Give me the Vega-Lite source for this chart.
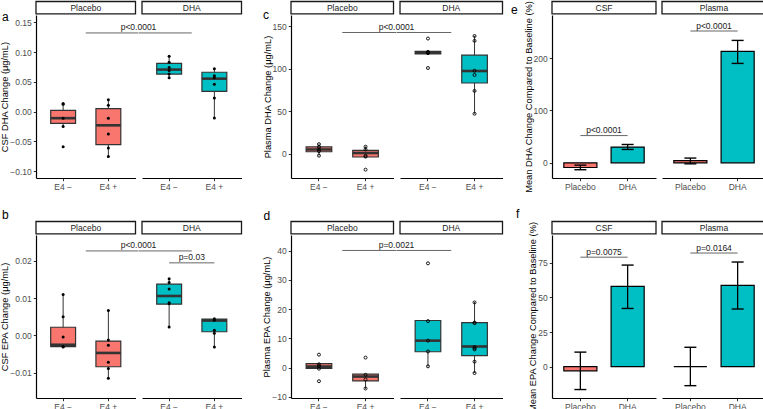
{
"$schema":"https://vega.github.io/schema/vega-lite/v6.json",
"padding":0,
"background":"white",
"columns":8,
"bounds":"flush",
"align":"each",
"spacing":{"row":57,"column":6},
"config":{
 "font":"Liberation Sans",
 "view":{"stroke":null},
 "axisY":{"labelFont":"Liberation Sans","labelFontSize":8.5,"labelColor":"#4d4d4d","tickColor":"#333333","tickSize":2.75,"tickWidth":1,"labelPadding":2,"domainColor":"black","domainWidth":1.2,"grid":false,"titleFont":"Liberation Sans","titleFontSize":9.3,"titleFontWeight":"normal","titleColor":"black","titlePadding":0},
 "axisX":{"labelFont":"Liberation Sans","labelFontSize":8.5,"labelColor":"#4d4d4d","tickColor":"#333333","tickSize":2.75,"tickWidth":1,"labelPadding":2,"domainColor":"black","domainWidth":1.2,"grid":false}
},
"datasets":{
 "one":[{"g":"E4 −"}],
 "oneP":[{"g":"Placebo"}],
 "a_box":[
  {"f":"Placebo","g":"E4 −","lower":-0.025,"q1":-0.0196,"med":-0.011,"q3":0.002,"upper":0.0135},
  {"f":"Placebo","g":"E4 +","lower":-0.0767,"q1":-0.0554,"med":-0.023,"q3":0.005,"upper":0.021},
  {"f":"DHA","g":"E4 −","lower":0.0547,"q1":0.063,"med":0.0705,"q3":0.081,"upper":0.094},
  {"f":"DHA","g":"E4 +","lower":-0.0107,"q1":0.034,"med":0.0553,"q3":0.066,"upper":0.0727}],
 "a_pts":[
  {"f":"Placebo","g":"E4 −","v":0.0135},{"f":"Placebo","g":"E4 −","v":0.0125},{"f":"Placebo","g":"E4 −","v":-0.011},{"f":"Placebo","g":"E4 −","v":-0.025},{"f":"Placebo","g":"E4 −","v":-0.059},
  {"f":"Placebo","g":"E4 +","v":0.02},{"f":"Placebo","g":"E4 +","v":0.0106},{"f":"Placebo","g":"E4 +","v":-0.011},{"f":"Placebo","g":"E4 +","v":-0.0376},{"f":"Placebo","g":"E4 +","v":-0.061},{"f":"Placebo","g":"E4 +","v":-0.0755},
  {"f":"DHA","g":"E4 −","v":0.093},{"f":"DHA","g":"E4 −","v":0.083},{"f":"DHA","g":"E4 −","v":0.074},{"f":"DHA","g":"E4 −","v":0.069},{"f":"DHA","g":"E4 −","v":0.063},{"f":"DHA","g":"E4 −","v":0.057},
  {"f":"DHA","g":"E4 +","v":0.072},{"f":"DHA","g":"E4 +","v":0.06},{"f":"DHA","g":"E4 +","v":0.057},{"f":"DHA","g":"E4 +","v":0.0458},{"f":"DHA","g":"E4 +","v":0.0229},{"f":"DHA","g":"E4 +","v":-0.0107}],
 "a_br":[{"g":"E4 +","y":0.132,"label":"p<0.0001"}],
 "b_box":[
  {"f":"Placebo","g":"E4 −","lower":-0.0031,"q1":-0.003,"med":-0.0025,"q3":0.0022,"upper":0.011},
  {"f":"Placebo","g":"E4 +","lower":-0.0116,"q1":-0.0084,"med":-0.0047,"q3":-0.0015,"upper":0.0068},
  {"f":"DHA","g":"E4 −","lower":0.0025,"q1":0.0084,"med":0.0106,"q3":0.0138,"upper":0.0153},
  {"f":"DHA","g":"E4 +","lower":-0.0031,"q1":0.001,"med":0.004,"q3":0.0044,"upper":0.0046}],
 "b_pts":[
  {"f":"Placebo","g":"E4 −","v":0.011},{"f":"Placebo","g":"E4 −","v":0.005},{"f":"Placebo","g":"E4 −","v":-0.0004},{"f":"Placebo","g":"E4 −","v":-0.003},{"f":"Placebo","g":"E4 −","v":-0.0031},
  {"f":"Placebo","g":"E4 +","v":0.0067},{"f":"Placebo","g":"E4 +","v":-0.0012},{"f":"Placebo","g":"E4 +","v":-0.0026},{"f":"Placebo","g":"E4 +","v":-0.0072},{"f":"Placebo","g":"E4 +","v":-0.0089},{"f":"Placebo","g":"E4 +","v":-0.0115},
  {"f":"DHA","g":"E4 −","v":0.0152},{"f":"DHA","g":"E4 −","v":0.0142},{"f":"DHA","g":"E4 −","v":0.0125},{"f":"DHA","g":"E4 −","v":0.0088},{"f":"DHA","g":"E4 −","v":0.0085},{"f":"DHA","g":"E4 −","v":0.0023},
  {"f":"DHA","g":"E4 +","v":0.0045},{"f":"DHA","g":"E4 +","v":0.0041},{"f":"DHA","g":"E4 +","v":0.0014},{"f":"DHA","g":"E4 +","v":0.0006},{"f":"DHA","g":"E4 +","v":-0.0031}],
 "b_br":[{"g":"E4 +","y":0.0227,"label":"p<0.0001"}],
 "b_br2":[{"g":"E4 −","y":0.0195,"label":"p=0.03"},{"g":"E4 +","y":0.0195,"label":"p=0.03"}],
 "c_box":[
  {"f":"Placebo","g":"E4 −","lower":-2.3,"q1":2.3,"med":5,"q3":8,"upper":11.5},
  {"f":"Placebo","g":"E4 +","lower":-4,"q1":-3.9,"med":0.8,"q3":3.9,"upper":8.5},
  {"f":"DHA","g":"E4 −","lower":117,"q1":117.5,"med":119,"q3":120.5,"upper":121},
  {"f":"DHA","g":"E4 +","lower":47,"q1":83.2,"med":97.3,"q3":116,"upper":138.7}],
 "c_pts":[
  {"f":"Placebo","g":"E4 −","v":11.2},{"f":"Placebo","g":"E4 −","v":8},{"f":"Placebo","g":"E4 −","v":5},{"f":"Placebo","g":"E4 −","v":3},{"f":"Placebo","g":"E4 −","v":-2.3},
  {"f":"Placebo","g":"E4 +","v":8.2},{"f":"Placebo","g":"E4 +","v":5},{"f":"Placebo","g":"E4 +","v":-2.5},{"f":"Placebo","g":"E4 +","v":-3.5},{"f":"Placebo","g":"E4 +","v":-18.8},
  {"f":"DHA","g":"E4 −","v":135.5},{"f":"DHA","g":"E4 −","v":119.8},{"f":"DHA","g":"E4 −","v":119},{"f":"DHA","g":"E4 −","v":118.3},{"f":"DHA","g":"E4 −","v":100.8},
  {"f":"DHA","g":"E4 +","v":138.5},{"f":"DHA","g":"E4 +","v":132.8},{"f":"DHA","g":"E4 +","v":97.6},{"f":"DHA","g":"E4 +","v":92.6},{"f":"DHA","g":"E4 +","v":73.9},{"f":"DHA","g":"E4 +","v":47}],
 "c_br":[{"g":"E4 +","y":142.6,"label":"p<0.0001"}],
 "d_box":[
  {"f":"Placebo","g":"E4 −","lower":-0.4,"q1":-0.3,"med":0.3,"q3":1.3,"upper":1.4},
  {"f":"Placebo","g":"E4 +","lower":-7.3,"q1":-4.6,"med":-3.1,"q3":-2.3,"upper":-2.3},
  {"f":"DHA","g":"E4 −","lower":0.3,"q1":5.4,"med":9.2,"q3":16.1,"upper":16.1},
  {"f":"DHA","g":"E4 +","lower":-1.9,"q1":4.1,"med":7.2,"q3":15.4,"upper":22.5}],
 "d_pts":[
  {"f":"Placebo","g":"E4 −","v":4.4},{"f":"Placebo","g":"E4 −","v":1.1},{"f":"Placebo","g":"E4 −","v":0.5},{"f":"Placebo","g":"E4 −","v":-0.4},{"f":"Placebo","g":"E4 −","v":-4.7},
  {"f":"Placebo","g":"E4 +","v":3.4},{"f":"Placebo","g":"E4 +","v":-2.5},{"f":"Placebo","g":"E4 +","v":-4.1},{"f":"Placebo","g":"E4 +","v":-7.2},
  {"f":"DHA","g":"E4 −","v":35.7},{"f":"DHA","g":"E4 −","v":15.9},{"f":"DHA","g":"E4 −","v":9.2},{"f":"DHA","g":"E4 −","v":5.5},{"f":"DHA","g":"E4 −","v":0.4},
  {"f":"DHA","g":"E4 +","v":22.3},{"f":"DHA","g":"E4 +","v":15.4},{"f":"DHA","g":"E4 +","v":15.2},{"f":"DHA","g":"E4 +","v":7},{"f":"DHA","g":"E4 +","v":6.6},{"f":"DHA","g":"E4 +","v":6.2},{"f":"DHA","g":"E4 +","v":2},{"f":"DHA","g":"E4 +","v":-1.9}],
 "d_br":[{"g":"E4 +","y":40.1,"label":"p=0.0021"}],
 "e_bar":[
  {"f":"CSF","g":"Placebo","mean":-9,"lo":-13.3,"hi":-4.5},
  {"f":"CSF","g":"DHA","mean":30,"lo":25.5,"hi":35},
  {"f":"Plasma","g":"Placebo","mean":4,"lo":-2,"hi":9},
  {"f":"Plasma","g":"DHA","mean":213,"lo":190,"hi":234}],
 "e_br":[{"f":"CSF","g":"Placebo","y":52,"label":"p<0.0001"},{"f":"CSF","g":"DHA","y":52,"label":"p<0.0001"},{"f":"Plasma","g":"Placebo","y":252,"label":"p<0.0001"},{"f":"Plasma","g":"DHA","y":252,"label":"p<0.0001"}],
 "f_bar":[
  {"f":"CSF","g":"Placebo","mean":-3,"lo":-16.5,"hi":10.5},
  {"f":"CSF","g":"DHA","mean":58,"lo":42,"hi":73.3},
  {"f":"Plasma","g":"Placebo","mean":0,"lo":-13.7,"hi":14},
  {"f":"Plasma","g":"DHA","mean":58.7,"lo":41.6,"hi":75.5}],
 "f_br":[{"f":"CSF","g":"Placebo","y":79,"label":"p=0.0075"},{"f":"CSF","g":"DHA","y":79,"label":"p=0.0075"},{"f":"Plasma","g":"Placebo","y":82,"label":"p=0.0164"},{"f":"Plasma","g":"DHA","y":82,"label":"p=0.0164"}]
},
"concat":[
{"width":99.5,"height":163,"layer":[
 {"data":{"name":"one"},"mark":{"type":"bar","fill":"white","stroke":"#1a1a1a","strokeWidth":1.3,"yOffset":-13.5,"y2Offset":-1.2},"encoding":{"x":{"value":0},"x2":{"value":"width"},"y":{"datum":0.1621,"type":"quantitative","scale":{"domain":[-0.1114,0.1621],"nice":false,"zero":false},"axis":{"title":"CSF DHA Change (μg/mL)","values":[-0.1,-0.05,0,0.05,0.1,0.15],"format":".2f"}},"y2":{"datum":0.1621}}},
 {"data":{"name":"one"},"mark":{"type":"text","text":"Placebo","dy":-7.3,"fontSize":8.5,"color":"#1a1a1a"},"encoding":{"y":{"datum":0.1621,"type":"quantitative","scale":{"domain":[-0.1114,0.1621],"nice":false,"zero":false},"axis":{"title":"CSF DHA Change (μg/mL)","values":[-0.1,-0.05,0,0.05,0.1,0.15],"format":".2f"}}}},
 {"data":{"name":"one"},"mark":{"type":"text","text":"a","align":"left","baseline":"alphabetic","fontSize":12,"dx":-38.5,"dy":6,"color":"black"},"encoding":{"x":{"field":"g","type":"nominal","bandPosition":0,"scale":{"domain":["E4 −","E4 +"],"paddingInner":0,"paddingOuter":0.1},"axis":{"title":null,"labelAngle":0}},"y":{"datum":0.1621,"type":"quantitative","scale":{"domain":[-0.1114,0.1621],"nice":false,"zero":false},"axis":{"title":"CSF DHA Change (μg/mL)","values":[-0.1,-0.05,0,0.05,0.1,0.15],"format":".2f"}}}},
 {"data":{"name":"a_box"},"transform":[{"filter":"datum.f == 'Placebo'"}],"mark":{"type":"rule","color":"#333333","strokeWidth":1},"encoding":{"x":{"field":"g","type":"nominal","scale":{"domain":["E4 −","E4 +"],"paddingInner":0,"paddingOuter":0.1},"axis":{"title":null,"labelAngle":0}},"y":{"field":"lower","type":"quantitative","scale":{"domain":[-0.1114,0.1621],"nice":false,"zero":false},"axis":{"title":"CSF DHA Change (μg/mL)","values":[-0.1,-0.05,0,0.05,0.1,0.15],"format":".2f"}},"y2":{"field":"upper"}}},
 {"data":{"name":"a_box"},"transform":[{"filter":"datum.f == 'Placebo'"}],"mark":{"type":"bar","width":{"band":0.55},"fill":"#F8766D","stroke":"#333333","strokeWidth":1.2},"encoding":{"x":{"field":"g","type":"nominal","scale":{"domain":["E4 −","E4 +"],"paddingInner":0,"paddingOuter":0.1},"axis":{"title":null,"labelAngle":0}},"y":{"field":"q1","type":"quantitative","stack":null,"scale":{"domain":[-0.1114,0.1621],"nice":false,"zero":false},"axis":{"title":"CSF DHA Change (μg/mL)","values":[-0.1,-0.05,0,0.05,0.1,0.15],"format":".2f"}},"y2":{"field":"q3"}}},
 {"data":{"name":"a_box"},"transform":[{"filter":"datum.f == 'Placebo'"}],"mark":{"type":"tick","orient":"horizontal","size":24.9,"thickness":2.6,"color":"#333333","opacity":1},"encoding":{"x":{"field":"g","type":"nominal","scale":{"domain":["E4 −","E4 +"],"paddingInner":0,"paddingOuter":0.1},"axis":{"title":null,"labelAngle":0}},"y":{"field":"med","type":"quantitative","scale":{"domain":[-0.1114,0.1621],"nice":false,"zero":false},"axis":{"title":"CSF DHA Change (μg/mL)","values":[-0.1,-0.05,0,0.05,0.1,0.15],"format":".2f"}}}},
 {"data":{"name":"a_pts"},"transform":[{"filter":"datum.f == 'Placebo'"}],"mark":{"type":"point","filled":true,"color":"black","size":9,"opacity":1},"encoding":{"x":{"field":"g","type":"nominal","scale":{"domain":["E4 −","E4 +"],"paddingInner":0,"paddingOuter":0.1},"axis":{"title":null,"labelAngle":0}},"y":{"field":"v","type":"quantitative","scale":{"domain":[-0.1114,0.1621],"nice":false,"zero":false},"axis":{"title":"CSF DHA Change (μg/mL)","values":[-0.1,-0.05,0,0.05,0.1,0.15],"format":".2f"}}}},
 {"data":{"name":"a_br"},"mark":{"type":"rule","color":"#666666","strokeWidth":1,"x2Offset":3},"encoding":{"x":{"field":"g","type":"nominal","bandPosition":0,"scale":{"domain":["E4 −","E4 +"],"paddingInner":0,"paddingOuter":0.1},"axis":{"title":null,"labelAngle":0}},"x2":{"value":"width"},"y":{"field":"y","type":"quantitative","scale":{"domain":[-0.1114,0.1621],"nice":false,"zero":false},"axis":{"title":"CSF DHA Change (μg/mL)","values":[-0.1,-0.05,0,0.05,0.1,0.15],"format":".2f"}}}},
 {"data":{"name":"a_br"},"mark":{"type":"text","dx":3,"dy":-2.5,"baseline":"alphabetic","fontSize":8.5,"color":"#1a1a1a"},"encoding":{"x":{"value":"width"},"y":{"field":"y","type":"quantitative","scale":{"domain":[-0.1114,0.1621],"nice":false,"zero":false},"axis":{"title":"CSF DHA Change (μg/mL)","values":[-0.1,-0.05,0,0.05,0.1,0.15],"format":".2f"}},"text":{"field":"label"}}}
]},
{"width":99.5,"height":163,"layer":[
 {"data":{"name":"one"},"mark":{"type":"bar","fill":"white","stroke":"#1a1a1a","strokeWidth":1.3,"yOffset":-13.5,"y2Offset":-1.2},"encoding":{"x":{"value":0},"x2":{"value":"width"},"y":{"datum":0.1621,"type":"quantitative","scale":{"domain":[-0.1114,0.1621],"nice":false,"zero":false},"axis":null},"y2":{"datum":0.1621}}},
 {"data":{"name":"one"},"mark":{"type":"text","text":"DHA","dy":-7.3,"fontSize":8.5,"color":"#1a1a1a"},"encoding":{"y":{"datum":0.1621,"type":"quantitative","scale":{"domain":[-0.1114,0.1621],"nice":false,"zero":false},"axis":null}}},
 {"data":{"name":"a_box"},"transform":[{"filter":"datum.f == 'DHA'"}],"mark":{"type":"rule","color":"#333333","strokeWidth":1},"encoding":{"x":{"field":"g","type":"nominal","scale":{"domain":["E4 −","E4 +"],"paddingInner":0,"paddingOuter":0.1},"axis":{"title":null,"labelAngle":0}},"y":{"field":"lower","type":"quantitative","scale":{"domain":[-0.1114,0.1621],"nice":false,"zero":false},"axis":null},"y2":{"field":"upper"}}},
 {"data":{"name":"a_box"},"transform":[{"filter":"datum.f == 'DHA'"}],"mark":{"type":"bar","width":{"band":0.55},"fill":"#00BFC4","stroke":"#333333","strokeWidth":1.2},"encoding":{"x":{"field":"g","type":"nominal","scale":{"domain":["E4 −","E4 +"],"paddingInner":0,"paddingOuter":0.1},"axis":{"title":null,"labelAngle":0}},"y":{"field":"q1","type":"quantitative","stack":null,"scale":{"domain":[-0.1114,0.1621],"nice":false,"zero":false},"axis":null},"y2":{"field":"q3"}}},
 {"data":{"name":"a_box"},"transform":[{"filter":"datum.f == 'DHA'"}],"mark":{"type":"tick","orient":"horizontal","size":24.9,"thickness":2.6,"color":"#333333","opacity":1},"encoding":{"x":{"field":"g","type":"nominal","scale":{"domain":["E4 −","E4 +"],"paddingInner":0,"paddingOuter":0.1},"axis":{"title":null,"labelAngle":0}},"y":{"field":"med","type":"quantitative","scale":{"domain":[-0.1114,0.1621],"nice":false,"zero":false},"axis":null}}},
 {"data":{"name":"a_pts"},"transform":[{"filter":"datum.f == 'DHA'"}],"mark":{"type":"point","filled":true,"color":"black","size":9,"opacity":1},"encoding":{"x":{"field":"g","type":"nominal","scale":{"domain":["E4 −","E4 +"],"paddingInner":0,"paddingOuter":0.1},"axis":{"title":null,"labelAngle":0}},"y":{"field":"v","type":"quantitative","scale":{"domain":[-0.1114,0.1621],"nice":false,"zero":false},"axis":null}}},
 {"data":{"name":"a_br"},"mark":{"type":"rule","color":"#666666","strokeWidth":1,"x2Offset":-3},"encoding":{"x":{"field":"g","type":"nominal","bandPosition":0,"scale":{"domain":["E4 −","E4 +"],"paddingInner":0,"paddingOuter":0.1},"axis":{"title":null,"labelAngle":0}},"x2":{"value":0},"y":{"field":"y","type":"quantitative","scale":{"domain":[-0.1114,0.1621],"nice":false,"zero":false},"axis":null}}}
]},
{"width":37,"height":163,"data":{"values":[]},"mark":"point"},
{"width":102.5,"height":163,"layer":[
 {"data":{"name":"one"},"mark":{"type":"bar","fill":"white","stroke":"#1a1a1a","strokeWidth":1.3,"yOffset":-13.5,"y2Offset":-1.2},"encoding":{"x":{"value":0},"x2":{"value":"width"},"y":{"datum":163.2,"type":"quantitative","scale":{"domain":[-28.6,163.2],"nice":false,"zero":false},"axis":{"title":"Plasma DHA Change (μg/mL)","values":[0,50,100,150]}},"y2":{"datum":163.2}}},
 {"data":{"name":"one"},"mark":{"type":"text","text":"Placebo","dy":-7.3,"fontSize":8.5,"color":"#1a1a1a"},"encoding":{"y":{"datum":163.2,"type":"quantitative","scale":{"domain":[-28.6,163.2],"nice":false,"zero":false},"axis":{"title":"Plasma DHA Change (μg/mL)","values":[0,50,100,150]}}}},
 {"data":{"name":"one"},"mark":{"type":"text","text":"c","align":"left","baseline":"alphabetic","fontSize":12,"dx":-32.7,"dy":3.8,"color":"black"},"encoding":{"x":{"field":"g","type":"nominal","bandPosition":0,"scale":{"domain":["E4 −","E4 +"],"paddingInner":0,"paddingOuter":0.1},"axis":{"title":null,"labelAngle":0}},"y":{"datum":163.2,"type":"quantitative","scale":{"domain":[-28.6,163.2],"nice":false,"zero":false},"axis":{"title":"Plasma DHA Change (μg/mL)","values":[0,50,100,150]}}}},
 {"data":{"name":"c_box"},"transform":[{"filter":"datum.f == 'Placebo'"}],"mark":{"type":"rule","color":"#333333","strokeWidth":1},"encoding":{"x":{"field":"g","type":"nominal","scale":{"domain":["E4 −","E4 +"],"paddingInner":0,"paddingOuter":0.1},"axis":{"title":null,"labelAngle":0}},"y":{"field":"lower","type":"quantitative","scale":{"domain":[-28.6,163.2],"nice":false,"zero":false},"axis":{"title":"Plasma DHA Change (μg/mL)","values":[0,50,100,150]}},"y2":{"field":"upper"}}},
 {"data":{"name":"c_box"},"transform":[{"filter":"datum.f == 'Placebo'"}],"mark":{"type":"bar","width":{"band":0.55},"fill":"#F8766D","stroke":"#333333","strokeWidth":1.2},"encoding":{"x":{"field":"g","type":"nominal","scale":{"domain":["E4 −","E4 +"],"paddingInner":0,"paddingOuter":0.1},"axis":{"title":null,"labelAngle":0}},"y":{"field":"q1","type":"quantitative","stack":null,"scale":{"domain":[-28.6,163.2],"nice":false,"zero":false},"axis":{"title":"Plasma DHA Change (μg/mL)","values":[0,50,100,150]}},"y2":{"field":"q3"}}},
 {"data":{"name":"c_box"},"transform":[{"filter":"datum.f == 'Placebo'"}],"mark":{"type":"tick","orient":"horizontal","size":25.6,"thickness":2.6,"color":"#333333","opacity":1},"encoding":{"x":{"field":"g","type":"nominal","scale":{"domain":["E4 −","E4 +"],"paddingInner":0,"paddingOuter":0.1},"axis":{"title":null,"labelAngle":0}},"y":{"field":"med","type":"quantitative","scale":{"domain":[-28.6,163.2],"nice":false,"zero":false},"axis":{"title":"Plasma DHA Change (μg/mL)","values":[0,50,100,150]}}}},
 {"data":{"name":"c_pts"},"transform":[{"filter":"datum.f == 'Placebo'"}],"mark":{"type":"point","filled":false,"color":"black","strokeWidth":0.9,"size":9,"opacity":1},"encoding":{"x":{"field":"g","type":"nominal","scale":{"domain":["E4 −","E4 +"],"paddingInner":0,"paddingOuter":0.1},"axis":{"title":null,"labelAngle":0}},"y":{"field":"v","type":"quantitative","scale":{"domain":[-28.6,163.2],"nice":false,"zero":false},"axis":{"title":"Plasma DHA Change (μg/mL)","values":[0,50,100,150]}}}},
 {"data":{"name":"c_br"},"mark":{"type":"rule","color":"#666666","strokeWidth":1,"x2Offset":3},"encoding":{"x":{"field":"g","type":"nominal","bandPosition":0,"scale":{"domain":["E4 −","E4 +"],"paddingInner":0,"paddingOuter":0.1},"axis":{"title":null,"labelAngle":0}},"x2":{"value":"width"},"y":{"field":"y","type":"quantitative","scale":{"domain":[-28.6,163.2],"nice":false,"zero":false},"axis":{"title":"Plasma DHA Change (μg/mL)","values":[0,50,100,150]}}}},
 {"data":{"name":"c_br"},"mark":{"type":"text","dx":3,"dy":-2.5,"baseline":"alphabetic","fontSize":8.5,"color":"#1a1a1a"},"encoding":{"x":{"value":"width"},"y":{"field":"y","type":"quantitative","scale":{"domain":[-28.6,163.2],"nice":false,"zero":false},"axis":{"title":"Plasma DHA Change (μg/mL)","values":[0,50,100,150]}},"text":{"field":"label"}}}
]},
{"width":102.5,"height":163,"layer":[
 {"data":{"name":"one"},"mark":{"type":"bar","fill":"white","stroke":"#1a1a1a","strokeWidth":1.3,"yOffset":-13.5,"y2Offset":-1.2},"encoding":{"x":{"value":0},"x2":{"value":"width"},"y":{"datum":163.2,"type":"quantitative","scale":{"domain":[-28.6,163.2],"nice":false,"zero":false},"axis":null},"y2":{"datum":163.2}}},
 {"data":{"name":"one"},"mark":{"type":"text","text":"DHA","dy":-7.3,"fontSize":8.5,"color":"#1a1a1a"},"encoding":{"y":{"datum":163.2,"type":"quantitative","scale":{"domain":[-28.6,163.2],"nice":false,"zero":false},"axis":null}}},
 {"data":{"name":"c_box"},"transform":[{"filter":"datum.f == 'DHA'"}],"mark":{"type":"rule","color":"#333333","strokeWidth":1},"encoding":{"x":{"field":"g","type":"nominal","scale":{"domain":["E4 −","E4 +"],"paddingInner":0,"paddingOuter":0.1},"axis":{"title":null,"labelAngle":0}},"y":{"field":"lower","type":"quantitative","scale":{"domain":[-28.6,163.2],"nice":false,"zero":false},"axis":null},"y2":{"field":"upper"}}},
 {"data":{"name":"c_box"},"transform":[{"filter":"datum.f == 'DHA'"}],"mark":{"type":"bar","width":{"band":0.55},"fill":"#00BFC4","stroke":"#333333","strokeWidth":1.2},"encoding":{"x":{"field":"g","type":"nominal","scale":{"domain":["E4 −","E4 +"],"paddingInner":0,"paddingOuter":0.1},"axis":{"title":null,"labelAngle":0}},"y":{"field":"q1","type":"quantitative","stack":null,"scale":{"domain":[-28.6,163.2],"nice":false,"zero":false},"axis":null},"y2":{"field":"q3"}}},
 {"data":{"name":"c_box"},"transform":[{"filter":"datum.f == 'DHA'"}],"mark":{"type":"tick","orient":"horizontal","size":25.6,"thickness":2.6,"color":"#333333","opacity":1},"encoding":{"x":{"field":"g","type":"nominal","scale":{"domain":["E4 −","E4 +"],"paddingInner":0,"paddingOuter":0.1},"axis":{"title":null,"labelAngle":0}},"y":{"field":"med","type":"quantitative","scale":{"domain":[-28.6,163.2],"nice":false,"zero":false},"axis":null}}},
 {"data":{"name":"c_pts"},"transform":[{"filter":"datum.f == 'DHA'"}],"mark":{"type":"point","filled":false,"color":"black","strokeWidth":0.9,"size":9,"opacity":1},"encoding":{"x":{"field":"g","type":"nominal","scale":{"domain":["E4 −","E4 +"],"paddingInner":0,"paddingOuter":0.1},"axis":{"title":null,"labelAngle":0}},"y":{"field":"v","type":"quantitative","scale":{"domain":[-28.6,163.2],"nice":false,"zero":false},"axis":null}}},
 {"data":{"name":"c_br"},"mark":{"type":"rule","color":"#666666","strokeWidth":1,"x2Offset":-3},"encoding":{"x":{"field":"g","type":"nominal","bandPosition":0,"scale":{"domain":["E4 −","E4 +"],"paddingInner":0,"paddingOuter":0.1},"axis":{"title":null,"labelAngle":0}},"x2":{"value":0},"y":{"field":"y","type":"quantitative","scale":{"domain":[-28.6,163.2],"nice":false,"zero":false},"axis":null}}}
]},
{"width":37,"height":163,"data":{"values":[]},"mark":"point"},
{"width":104,"height":163,"layer":[
 {"data":{"name":"oneP"},"mark":{"type":"bar","fill":"white","stroke":"#1a1a1a","strokeWidth":1.3,"yOffset":-13.5,"y2Offset":-1.2},"encoding":{"x":{"value":0},"x2":{"value":"width"},"y":{"datum":282.6,"type":"quantitative","scale":{"domain":[-29.1,282.6],"nice":false,"zero":false},"axis":{"title":"Mean DHA Change Compared to Baseline (%)","values":[0,100,200]}},"y2":{"datum":282.6}}},
 {"data":{"name":"oneP"},"mark":{"type":"text","text":"CSF","dy":-7.3,"fontSize":8.5,"color":"#1a1a1a"},"encoding":{"y":{"datum":282.6,"type":"quantitative","scale":{"domain":[-29.1,282.6],"nice":false,"zero":false},"axis":{"title":"Mean DHA Change Compared to Baseline (%)","values":[0,100,200]}}}},
 {"data":{"name":"oneP"},"mark":{"type":"text","text":"e","align":"left","baseline":"alphabetic","fontSize":12,"dx":-45.7,"dy":-1.2,"color":"black"},"encoding":{"x":{"field":"g","type":"nominal","bandPosition":0,"scale":{"domain":["Placebo","DHA"],"paddingInner":0,"paddingOuter":0.1},"axis":{"title":null,"labelAngle":0}},"y":{"datum":282.6,"type":"quantitative","scale":{"domain":[-29.1,282.6],"nice":false,"zero":false},"axis":{"title":"Mean DHA Change Compared to Baseline (%)","values":[0,100,200]}}}},
 {"data":{"name":"e_bar"},"transform":[{"filter":"datum.f == 'CSF'"}],"mark":{"type":"bar","width":{"band":0.7},"stroke":"black","strokeWidth":1.2},"encoding":{"x":{"field":"g","type":"nominal","scale":{"domain":["Placebo","DHA"],"paddingInner":0,"paddingOuter":0.1},"axis":{"title":null,"labelAngle":0}},"y":{"field":"mean","type":"quantitative","stack":null,"scale":{"domain":[-29.1,282.6],"nice":false,"zero":false},"axis":{"title":"Mean DHA Change Compared to Baseline (%)","values":[0,100,200]}},"y2":{"datum":0},"fill":{"field":"g","type":"nominal","scale":{"domain":["Placebo","DHA"],"range":["#F8766D","#00BFC4"]},"legend":null}}},
 {"data":{"name":"e_bar"},"transform":[{"filter":"datum.f == 'CSF'"}],"mark":{"type":"rule","color":"black","strokeWidth":1.3},"encoding":{"x":{"field":"g","type":"nominal","scale":{"domain":["Placebo","DHA"],"paddingInner":0,"paddingOuter":0.1},"axis":{"title":null,"labelAngle":0}},"y":{"field":"lo","type":"quantitative","scale":{"domain":[-29.1,282.6],"nice":false,"zero":false},"axis":{"title":"Mean DHA Change Compared to Baseline (%)","values":[0,100,200]}},"y2":{"field":"hi"}}},
 {"data":{"name":"e_bar"},"transform":[{"filter":"datum.f == 'CSF'"}],"mark":{"type":"tick","orient":"horizontal","size":12,"thickness":1.4,"color":"black","opacity":1},"encoding":{"x":{"field":"g","type":"nominal","scale":{"domain":["Placebo","DHA"],"paddingInner":0,"paddingOuter":0.1},"axis":{"title":null,"labelAngle":0}},"y":{"field":"lo","type":"quantitative","scale":{"domain":[-29.1,282.6],"nice":false,"zero":false},"axis":{"title":"Mean DHA Change Compared to Baseline (%)","values":[0,100,200]}}}},
 {"data":{"name":"e_bar"},"transform":[{"filter":"datum.f == 'CSF'"}],"mark":{"type":"tick","orient":"horizontal","size":12,"thickness":1.4,"color":"black","opacity":1},"encoding":{"x":{"field":"g","type":"nominal","scale":{"domain":["Placebo","DHA"],"paddingInner":0,"paddingOuter":0.1},"axis":{"title":null,"labelAngle":0}},"y":{"field":"hi","type":"quantitative","scale":{"domain":[-29.1,282.6],"nice":false,"zero":false},"axis":{"title":"Mean DHA Change Compared to Baseline (%)","values":[0,100,200]}}}},
 {"data":{"name":"e_br"},"transform":[{"filter":"datum.f == 'CSF'"}],"mark":{"type":"line","color":"#666666","strokeWidth":1},"encoding":{"x":{"field":"g","type":"nominal","scale":{"domain":["Placebo","DHA"],"paddingInner":0,"paddingOuter":0.1},"axis":{"title":null,"labelAngle":0}},"y":{"field":"y","type":"quantitative","scale":{"domain":[-29.1,282.6],"nice":false,"zero":false},"axis":{"title":"Mean DHA Change Compared to Baseline (%)","values":[0,100,200]}}}},
 {"data":{"name":"e_br"},"transform":[{"filter":"datum.f == 'CSF' && datum.g == 'Placebo'"}],"mark":{"type":"text","dy":-2.5,"baseline":"alphabetic","fontSize":8.5,"color":"#1a1a1a"},"encoding":{"y":{"field":"y","type":"quantitative","scale":{"domain":[-29.1,282.6],"nice":false,"zero":false},"axis":{"title":"Mean DHA Change Compared to Baseline (%)","values":[0,100,200]}},"text":{"field":"label"}}}
]},
{"width":104,"height":163,"layer":[
 {"data":{"name":"oneP"},"mark":{"type":"bar","fill":"white","stroke":"#1a1a1a","strokeWidth":1.3,"yOffset":-13.5,"y2Offset":-1.2},"encoding":{"x":{"value":0},"x2":{"value":"width"},"y":{"datum":282.6,"type":"quantitative","scale":{"domain":[-29.1,282.6],"nice":false,"zero":false},"axis":null},"y2":{"datum":282.6}}},
 {"data":{"name":"oneP"},"mark":{"type":"text","text":"Plasma","dy":-7.3,"fontSize":8.5,"color":"#1a1a1a"},"encoding":{"y":{"datum":282.6,"type":"quantitative","scale":{"domain":[-29.1,282.6],"nice":false,"zero":false},"axis":null}}},
 {"data":{"name":"e_bar"},"transform":[{"filter":"datum.f == 'Plasma'"}],"mark":{"type":"bar","width":{"band":0.7},"stroke":"black","strokeWidth":1.2},"encoding":{"x":{"field":"g","type":"nominal","scale":{"domain":["Placebo","DHA"],"paddingInner":0,"paddingOuter":0.1},"axis":{"title":null,"labelAngle":0}},"y":{"field":"mean","type":"quantitative","stack":null,"scale":{"domain":[-29.1,282.6],"nice":false,"zero":false},"axis":null},"y2":{"datum":0},"fill":{"field":"g","type":"nominal","scale":{"domain":["Placebo","DHA"],"range":["#F8766D","#00BFC4"]},"legend":null}}},
 {"data":{"name":"e_bar"},"transform":[{"filter":"datum.f == 'Plasma'"}],"mark":{"type":"rule","color":"black","strokeWidth":1.3},"encoding":{"x":{"field":"g","type":"nominal","scale":{"domain":["Placebo","DHA"],"paddingInner":0,"paddingOuter":0.1},"axis":{"title":null,"labelAngle":0}},"y":{"field":"lo","type":"quantitative","scale":{"domain":[-29.1,282.6],"nice":false,"zero":false},"axis":null},"y2":{"field":"hi"}}},
 {"data":{"name":"e_bar"},"transform":[{"filter":"datum.f == 'Plasma'"}],"mark":{"type":"tick","orient":"horizontal","size":12,"thickness":1.4,"color":"black","opacity":1},"encoding":{"x":{"field":"g","type":"nominal","scale":{"domain":["Placebo","DHA"],"paddingInner":0,"paddingOuter":0.1},"axis":{"title":null,"labelAngle":0}},"y":{"field":"lo","type":"quantitative","scale":{"domain":[-29.1,282.6],"nice":false,"zero":false},"axis":null}}},
 {"data":{"name":"e_bar"},"transform":[{"filter":"datum.f == 'Plasma'"}],"mark":{"type":"tick","orient":"horizontal","size":12,"thickness":1.4,"color":"black","opacity":1},"encoding":{"x":{"field":"g","type":"nominal","scale":{"domain":["Placebo","DHA"],"paddingInner":0,"paddingOuter":0.1},"axis":{"title":null,"labelAngle":0}},"y":{"field":"hi","type":"quantitative","scale":{"domain":[-29.1,282.6],"nice":false,"zero":false},"axis":null}}},
 {"data":{"name":"e_br"},"transform":[{"filter":"datum.f == 'Plasma'"}],"mark":{"type":"line","color":"#666666","strokeWidth":1},"encoding":{"x":{"field":"g","type":"nominal","scale":{"domain":["Placebo","DHA"],"paddingInner":0,"paddingOuter":0.1},"axis":{"title":null,"labelAngle":0}},"y":{"field":"y","type":"quantitative","scale":{"domain":[-29.1,282.6],"nice":false,"zero":false},"axis":null}}},
 {"data":{"name":"e_br"},"transform":[{"filter":"datum.f == 'Plasma' && datum.g == 'Placebo'"}],"mark":{"type":"text","dy":-2.5,"baseline":"alphabetic","fontSize":8.5,"color":"#1a1a1a"},"encoding":{"y":{"field":"y","type":"quantitative","scale":{"domain":[-29.1,282.6],"nice":false,"zero":false},"axis":null},"text":{"field":"label"}}}
]},
{"width":99.5,"height":163,"layer":[
 {"data":{"name":"one"},"mark":{"type":"bar","fill":"white","stroke":"#1a1a1a","strokeWidth":1.3,"yOffset":-13.5,"y2Offset":-1.2},"encoding":{"x":{"value":0},"x2":{"value":"width"},"y":{"datum":0.02698,"type":"quantitative","scale":{"domain":[-0.0168,0.02698],"nice":false,"zero":false},"axis":{"title":"CSF EPA Change (μg/mL)","values":[-0.01,0,0.01,0.02],"format":".2f"}},"y2":{"datum":0.02698}}},
 {"data":{"name":"one"},"mark":{"type":"text","text":"Placebo","dy":-7.3,"fontSize":8.5,"color":"#1a1a1a"},"encoding":{"y":{"datum":0.02698,"type":"quantitative","scale":{"domain":[-0.0168,0.02698],"nice":false,"zero":false},"axis":{"title":"CSF EPA Change (μg/mL)","values":[-0.01,0,0.01,0.02],"format":".2f"}}}},
 {"data":{"name":"one"},"mark":{"type":"text","text":"b","align":"left","baseline":"alphabetic","fontSize":12,"dx":-38.5,"dy":-15.7,"color":"black"},"encoding":{"x":{"field":"g","type":"nominal","bandPosition":0,"scale":{"domain":["E4 −","E4 +"],"paddingInner":0,"paddingOuter":0.1},"axis":{"title":null,"labelAngle":0}},"y":{"datum":0.02698,"type":"quantitative","scale":{"domain":[-0.0168,0.02698],"nice":false,"zero":false},"axis":{"title":"CSF EPA Change (μg/mL)","values":[-0.01,0,0.01,0.02],"format":".2f"}}}},
 {"data":{"name":"b_box"},"transform":[{"filter":"datum.f == 'Placebo'"}],"mark":{"type":"rule","color":"#333333","strokeWidth":1},"encoding":{"x":{"field":"g","type":"nominal","scale":{"domain":["E4 −","E4 +"],"paddingInner":0,"paddingOuter":0.1},"axis":{"title":null,"labelAngle":0}},"y":{"field":"lower","type":"quantitative","scale":{"domain":[-0.0168,0.02698],"nice":false,"zero":false},"axis":{"title":"CSF EPA Change (μg/mL)","values":[-0.01,0,0.01,0.02],"format":".2f"}},"y2":{"field":"upper"}}},
 {"data":{"name":"b_box"},"transform":[{"filter":"datum.f == 'Placebo'"}],"mark":{"type":"bar","width":{"band":0.55},"fill":"#F8766D","stroke":"#333333","strokeWidth":1.2},"encoding":{"x":{"field":"g","type":"nominal","scale":{"domain":["E4 −","E4 +"],"paddingInner":0,"paddingOuter":0.1},"axis":{"title":null,"labelAngle":0}},"y":{"field":"q1","type":"quantitative","stack":null,"scale":{"domain":[-0.0168,0.02698],"nice":false,"zero":false},"axis":{"title":"CSF EPA Change (μg/mL)","values":[-0.01,0,0.01,0.02],"format":".2f"}},"y2":{"field":"q3"}}},
 {"data":{"name":"b_box"},"transform":[{"filter":"datum.f == 'Placebo'"}],"mark":{"type":"tick","orient":"horizontal","size":24.9,"thickness":2.6,"color":"#333333","opacity":1},"encoding":{"x":{"field":"g","type":"nominal","scale":{"domain":["E4 −","E4 +"],"paddingInner":0,"paddingOuter":0.1},"axis":{"title":null,"labelAngle":0}},"y":{"field":"med","type":"quantitative","scale":{"domain":[-0.0168,0.02698],"nice":false,"zero":false},"axis":{"title":"CSF EPA Change (μg/mL)","values":[-0.01,0,0.01,0.02],"format":".2f"}}}},
 {"data":{"name":"b_pts"},"transform":[{"filter":"datum.f == 'Placebo'"}],"mark":{"type":"point","filled":true,"color":"black","size":9,"opacity":1},"encoding":{"x":{"field":"g","type":"nominal","scale":{"domain":["E4 −","E4 +"],"paddingInner":0,"paddingOuter":0.1},"axis":{"title":null,"labelAngle":0}},"y":{"field":"v","type":"quantitative","scale":{"domain":[-0.0168,0.02698],"nice":false,"zero":false},"axis":{"title":"CSF EPA Change (μg/mL)","values":[-0.01,0,0.01,0.02],"format":".2f"}}}},
 {"data":{"name":"b_br"},"mark":{"type":"rule","color":"#666666","strokeWidth":1,"x2Offset":3},"encoding":{"x":{"field":"g","type":"nominal","bandPosition":0,"scale":{"domain":["E4 −","E4 +"],"paddingInner":0,"paddingOuter":0.1},"axis":{"title":null,"labelAngle":0}},"x2":{"value":"width"},"y":{"field":"y","type":"quantitative","scale":{"domain":[-0.0168,0.02698],"nice":false,"zero":false},"axis":{"title":"CSF EPA Change (μg/mL)","values":[-0.01,0,0.01,0.02],"format":".2f"}}}},
 {"data":{"name":"b_br"},"mark":{"type":"text","dx":3,"dy":-2.5,"baseline":"alphabetic","fontSize":8.5,"color":"#1a1a1a"},"encoding":{"x":{"value":"width"},"y":{"field":"y","type":"quantitative","scale":{"domain":[-0.0168,0.02698],"nice":false,"zero":false},"axis":{"title":"CSF EPA Change (μg/mL)","values":[-0.01,0,0.01,0.02],"format":".2f"}},"text":{"field":"label"}}}
]},
{"width":99.5,"height":163,"layer":[
 {"data":{"name":"one"},"mark":{"type":"bar","fill":"white","stroke":"#1a1a1a","strokeWidth":1.3,"yOffset":-13.5,"y2Offset":-1.2},"encoding":{"x":{"value":0},"x2":{"value":"width"},"y":{"datum":0.02698,"type":"quantitative","scale":{"domain":[-0.0168,0.02698],"nice":false,"zero":false},"axis":null},"y2":{"datum":0.02698}}},
 {"data":{"name":"one"},"mark":{"type":"text","text":"DHA","dy":-7.3,"fontSize":8.5,"color":"#1a1a1a"},"encoding":{"y":{"datum":0.02698,"type":"quantitative","scale":{"domain":[-0.0168,0.02698],"nice":false,"zero":false},"axis":null}}},
 {"data":{"name":"b_box"},"transform":[{"filter":"datum.f == 'DHA'"}],"mark":{"type":"rule","color":"#333333","strokeWidth":1},"encoding":{"x":{"field":"g","type":"nominal","scale":{"domain":["E4 −","E4 +"],"paddingInner":0,"paddingOuter":0.1},"axis":{"title":null,"labelAngle":0}},"y":{"field":"lower","type":"quantitative","scale":{"domain":[-0.0168,0.02698],"nice":false,"zero":false},"axis":null},"y2":{"field":"upper"}}},
 {"data":{"name":"b_box"},"transform":[{"filter":"datum.f == 'DHA'"}],"mark":{"type":"bar","width":{"band":0.55},"fill":"#00BFC4","stroke":"#333333","strokeWidth":1.2},"encoding":{"x":{"field":"g","type":"nominal","scale":{"domain":["E4 −","E4 +"],"paddingInner":0,"paddingOuter":0.1},"axis":{"title":null,"labelAngle":0}},"y":{"field":"q1","type":"quantitative","stack":null,"scale":{"domain":[-0.0168,0.02698],"nice":false,"zero":false},"axis":null},"y2":{"field":"q3"}}},
 {"data":{"name":"b_box"},"transform":[{"filter":"datum.f == 'DHA'"}],"mark":{"type":"tick","orient":"horizontal","size":24.9,"thickness":2.6,"color":"#333333","opacity":1},"encoding":{"x":{"field":"g","type":"nominal","scale":{"domain":["E4 −","E4 +"],"paddingInner":0,"paddingOuter":0.1},"axis":{"title":null,"labelAngle":0}},"y":{"field":"med","type":"quantitative","scale":{"domain":[-0.0168,0.02698],"nice":false,"zero":false},"axis":null}}},
 {"data":{"name":"b_pts"},"transform":[{"filter":"datum.f == 'DHA'"}],"mark":{"type":"point","filled":true,"color":"black","size":9,"opacity":1},"encoding":{"x":{"field":"g","type":"nominal","scale":{"domain":["E4 −","E4 +"],"paddingInner":0,"paddingOuter":0.1},"axis":{"title":null,"labelAngle":0}},"y":{"field":"v","type":"quantitative","scale":{"domain":[-0.0168,0.02698],"nice":false,"zero":false},"axis":null}}},
 {"data":{"name":"b_br"},"mark":{"type":"rule","color":"#666666","strokeWidth":1,"x2Offset":-3},"encoding":{"x":{"field":"g","type":"nominal","bandPosition":0,"scale":{"domain":["E4 −","E4 +"],"paddingInner":0,"paddingOuter":0.1},"axis":{"title":null,"labelAngle":0}},"x2":{"value":0},"y":{"field":"y","type":"quantitative","scale":{"domain":[-0.0168,0.02698],"nice":false,"zero":false},"axis":null}}},
 {"data":{"name":"b_br2"},"mark":{"type":"line","color":"#666666","strokeWidth":1},"encoding":{"x":{"field":"g","type":"nominal","scale":{"domain":["E4 −","E4 +"],"paddingInner":0,"paddingOuter":0.1},"axis":{"title":null,"labelAngle":0}},"y":{"field":"y","type":"quantitative","scale":{"domain":[-0.0168,0.02698],"nice":false,"zero":false},"axis":null}}},
 {"data":{"name":"b_br2"},"transform":[{"filter":"datum.g == 'E4 −'"}],"mark":{"type":"text","dy":-2.5,"baseline":"alphabetic","fontSize":8.5,"color":"#1a1a1a"},"encoding":{"y":{"field":"y","type":"quantitative","scale":{"domain":[-0.0168,0.02698],"nice":false,"zero":false},"axis":null},"text":{"field":"label"}}}
]},
{"width":37,"height":163,"data":{"values":[]},"mark":"point"},
{"width":102.5,"height":163,"layer":[
 {"data":{"name":"one"},"mark":{"type":"bar","fill":"white","stroke":"#1a1a1a","strokeWidth":1.3,"yOffset":-13.5,"y2Offset":-1.2},"encoding":{"x":{"value":0},"x2":{"value":"width"},"y":{"datum":45.4,"type":"quantitative","scale":{"domain":[-10.45,45.4],"nice":false,"zero":false},"axis":{"title":"Plasma EPA Change (μg/mL)","values":[-10,0,10,20,30,40]}},"y2":{"datum":45.4}}},
 {"data":{"name":"one"},"mark":{"type":"text","text":"Placebo","dy":-7.3,"fontSize":8.5,"color":"#1a1a1a"},"encoding":{"y":{"datum":45.4,"type":"quantitative","scale":{"domain":[-10.45,45.4],"nice":false,"zero":false},"axis":{"title":"Plasma EPA Change (μg/mL)","values":[-10,0,10,20,30,40]}}}},
 {"data":{"name":"one"},"mark":{"type":"text","text":"d","align":"left","baseline":"alphabetic","fontSize":12,"dx":-32.2,"dy":-15,"color":"black"},"encoding":{"x":{"field":"g","type":"nominal","bandPosition":0,"scale":{"domain":["E4 −","E4 +"],"paddingInner":0,"paddingOuter":0.1},"axis":{"title":null,"labelAngle":0}},"y":{"datum":45.4,"type":"quantitative","scale":{"domain":[-10.45,45.4],"nice":false,"zero":false},"axis":{"title":"Plasma EPA Change (μg/mL)","values":[-10,0,10,20,30,40]}}}},
 {"data":{"name":"d_box"},"transform":[{"filter":"datum.f == 'Placebo'"}],"mark":{"type":"rule","color":"#333333","strokeWidth":1},"encoding":{"x":{"field":"g","type":"nominal","scale":{"domain":["E4 −","E4 +"],"paddingInner":0,"paddingOuter":0.1},"axis":{"title":null,"labelAngle":0}},"y":{"field":"lower","type":"quantitative","scale":{"domain":[-10.45,45.4],"nice":false,"zero":false},"axis":{"title":"Plasma EPA Change (μg/mL)","values":[-10,0,10,20,30,40]}},"y2":{"field":"upper"}}},
 {"data":{"name":"d_box"},"transform":[{"filter":"datum.f == 'Placebo'"}],"mark":{"type":"bar","width":{"band":0.55},"fill":"#F8766D","stroke":"#333333","strokeWidth":1.2},"encoding":{"x":{"field":"g","type":"nominal","scale":{"domain":["E4 −","E4 +"],"paddingInner":0,"paddingOuter":0.1},"axis":{"title":null,"labelAngle":0}},"y":{"field":"q1","type":"quantitative","stack":null,"scale":{"domain":[-10.45,45.4],"nice":false,"zero":false},"axis":{"title":"Plasma EPA Change (μg/mL)","values":[-10,0,10,20,30,40]}},"y2":{"field":"q3"}}},
 {"data":{"name":"d_box"},"transform":[{"filter":"datum.f == 'Placebo'"}],"mark":{"type":"tick","orient":"horizontal","size":25.6,"thickness":2.6,"color":"#333333","opacity":1},"encoding":{"x":{"field":"g","type":"nominal","scale":{"domain":["E4 −","E4 +"],"paddingInner":0,"paddingOuter":0.1},"axis":{"title":null,"labelAngle":0}},"y":{"field":"med","type":"quantitative","scale":{"domain":[-10.45,45.4],"nice":false,"zero":false},"axis":{"title":"Plasma EPA Change (μg/mL)","values":[-10,0,10,20,30,40]}}}},
 {"data":{"name":"d_pts"},"transform":[{"filter":"datum.f == 'Placebo'"}],"mark":{"type":"point","filled":false,"color":"black","strokeWidth":0.9,"size":9,"opacity":1},"encoding":{"x":{"field":"g","type":"nominal","scale":{"domain":["E4 −","E4 +"],"paddingInner":0,"paddingOuter":0.1},"axis":{"title":null,"labelAngle":0}},"y":{"field":"v","type":"quantitative","scale":{"domain":[-10.45,45.4],"nice":false,"zero":false},"axis":{"title":"Plasma EPA Change (μg/mL)","values":[-10,0,10,20,30,40]}}}},
 {"data":{"name":"d_br"},"mark":{"type":"rule","color":"#666666","strokeWidth":1,"x2Offset":3},"encoding":{"x":{"field":"g","type":"nominal","bandPosition":0,"scale":{"domain":["E4 −","E4 +"],"paddingInner":0,"paddingOuter":0.1},"axis":{"title":null,"labelAngle":0}},"x2":{"value":"width"},"y":{"field":"y","type":"quantitative","scale":{"domain":[-10.45,45.4],"nice":false,"zero":false},"axis":{"title":"Plasma EPA Change (μg/mL)","values":[-10,0,10,20,30,40]}}}},
 {"data":{"name":"d_br"},"mark":{"type":"text","dx":3,"dy":-2.5,"baseline":"alphabetic","fontSize":8.5,"color":"#1a1a1a"},"encoding":{"x":{"value":"width"},"y":{"field":"y","type":"quantitative","scale":{"domain":[-10.45,45.4],"nice":false,"zero":false},"axis":{"title":"Plasma EPA Change (μg/mL)","values":[-10,0,10,20,30,40]}},"text":{"field":"label"}}}
]},
{"width":102.5,"height":163,"layer":[
 {"data":{"name":"one"},"mark":{"type":"bar","fill":"white","stroke":"#1a1a1a","strokeWidth":1.3,"yOffset":-13.5,"y2Offset":-1.2},"encoding":{"x":{"value":0},"x2":{"value":"width"},"y":{"datum":45.4,"type":"quantitative","scale":{"domain":[-10.45,45.4],"nice":false,"zero":false},"axis":null},"y2":{"datum":45.4}}},
 {"data":{"name":"one"},"mark":{"type":"text","text":"DHA","dy":-7.3,"fontSize":8.5,"color":"#1a1a1a"},"encoding":{"y":{"datum":45.4,"type":"quantitative","scale":{"domain":[-10.45,45.4],"nice":false,"zero":false},"axis":null}}},
 {"data":{"name":"d_box"},"transform":[{"filter":"datum.f == 'DHA'"}],"mark":{"type":"rule","color":"#333333","strokeWidth":1},"encoding":{"x":{"field":"g","type":"nominal","scale":{"domain":["E4 −","E4 +"],"paddingInner":0,"paddingOuter":0.1},"axis":{"title":null,"labelAngle":0}},"y":{"field":"lower","type":"quantitative","scale":{"domain":[-10.45,45.4],"nice":false,"zero":false},"axis":null},"y2":{"field":"upper"}}},
 {"data":{"name":"d_box"},"transform":[{"filter":"datum.f == 'DHA'"}],"mark":{"type":"bar","width":{"band":0.55},"fill":"#00BFC4","stroke":"#333333","strokeWidth":1.2},"encoding":{"x":{"field":"g","type":"nominal","scale":{"domain":["E4 −","E4 +"],"paddingInner":0,"paddingOuter":0.1},"axis":{"title":null,"labelAngle":0}},"y":{"field":"q1","type":"quantitative","stack":null,"scale":{"domain":[-10.45,45.4],"nice":false,"zero":false},"axis":null},"y2":{"field":"q3"}}},
 {"data":{"name":"d_box"},"transform":[{"filter":"datum.f == 'DHA'"}],"mark":{"type":"tick","orient":"horizontal","size":25.6,"thickness":2.6,"color":"#333333","opacity":1},"encoding":{"x":{"field":"g","type":"nominal","scale":{"domain":["E4 −","E4 +"],"paddingInner":0,"paddingOuter":0.1},"axis":{"title":null,"labelAngle":0}},"y":{"field":"med","type":"quantitative","scale":{"domain":[-10.45,45.4],"nice":false,"zero":false},"axis":null}}},
 {"data":{"name":"d_pts"},"transform":[{"filter":"datum.f == 'DHA'"}],"mark":{"type":"point","filled":false,"color":"black","strokeWidth":0.9,"size":9,"opacity":1},"encoding":{"x":{"field":"g","type":"nominal","scale":{"domain":["E4 −","E4 +"],"paddingInner":0,"paddingOuter":0.1},"axis":{"title":null,"labelAngle":0}},"y":{"field":"v","type":"quantitative","scale":{"domain":[-10.45,45.4],"nice":false,"zero":false},"axis":null}}},
 {"data":{"name":"d_br"},"mark":{"type":"rule","color":"#666666","strokeWidth":1,"x2Offset":-3},"encoding":{"x":{"field":"g","type":"nominal","bandPosition":0,"scale":{"domain":["E4 −","E4 +"],"paddingInner":0,"paddingOuter":0.1},"axis":{"title":null,"labelAngle":0}},"x2":{"value":0},"y":{"field":"y","type":"quantitative","scale":{"domain":[-10.45,45.4],"nice":false,"zero":false},"axis":null}}}
]},
{"width":37,"height":163,"data":{"values":[]},"mark":"point"},
{"width":104,"height":163,"layer":[
 {"data":{"name":"oneP"},"mark":{"type":"bar","fill":"white","stroke":"#1a1a1a","strokeWidth":1.3,"yOffset":-13.5,"y2Offset":-1.2},"encoding":{"x":{"value":0},"x2":{"value":"width"},"y":{"datum":95,"type":"quantitative","scale":{"domain":[-22.6,95],"nice":false,"zero":false},"axis":{"title":"Mean EPA Change Compared to Baseline (%)","values":[0,25,50,75]}},"y2":{"datum":95}}},
 {"data":{"name":"oneP"},"mark":{"type":"text","text":"CSF","dy":-7.3,"fontSize":8.5,"color":"#1a1a1a"},"encoding":{"y":{"datum":95,"type":"quantitative","scale":{"domain":[-22.6,95],"nice":false,"zero":false},"axis":{"title":"Mean EPA Change Compared to Baseline (%)","values":[0,25,50,75]}}}},
 {"data":{"name":"oneP"},"mark":{"type":"text","text":"f","align":"left","baseline":"alphabetic","fontSize":12,"dx":-40.7,"dy":-16.7,"color":"black"},"encoding":{"x":{"field":"g","type":"nominal","bandPosition":0,"scale":{"domain":["Placebo","DHA"],"paddingInner":0,"paddingOuter":0.1},"axis":{"title":null,"labelAngle":0}},"y":{"datum":95,"type":"quantitative","scale":{"domain":[-22.6,95],"nice":false,"zero":false},"axis":{"title":"Mean EPA Change Compared to Baseline (%)","values":[0,25,50,75]}}}},
 {"data":{"name":"f_bar"},"transform":[{"filter":"datum.f == 'CSF'"}],"mark":{"type":"bar","width":{"band":0.7},"stroke":"black","strokeWidth":1.2},"encoding":{"x":{"field":"g","type":"nominal","scale":{"domain":["Placebo","DHA"],"paddingInner":0,"paddingOuter":0.1},"axis":{"title":null,"labelAngle":0}},"y":{"field":"mean","type":"quantitative","stack":null,"scale":{"domain":[-22.6,95],"nice":false,"zero":false},"axis":{"title":"Mean EPA Change Compared to Baseline (%)","values":[0,25,50,75]}},"y2":{"datum":0},"fill":{"field":"g","type":"nominal","scale":{"domain":["Placebo","DHA"],"range":["#F8766D","#00BFC4"]},"legend":null}}},
 {"data":{"name":"f_bar"},"transform":[{"filter":"datum.f == 'CSF'"}],"mark":{"type":"rule","color":"black","strokeWidth":1.3},"encoding":{"x":{"field":"g","type":"nominal","scale":{"domain":["Placebo","DHA"],"paddingInner":0,"paddingOuter":0.1},"axis":{"title":null,"labelAngle":0}},"y":{"field":"lo","type":"quantitative","scale":{"domain":[-22.6,95],"nice":false,"zero":false},"axis":{"title":"Mean EPA Change Compared to Baseline (%)","values":[0,25,50,75]}},"y2":{"field":"hi"}}},
 {"data":{"name":"f_bar"},"transform":[{"filter":"datum.f == 'CSF'"}],"mark":{"type":"tick","orient":"horizontal","size":12,"thickness":1.4,"color":"black","opacity":1},"encoding":{"x":{"field":"g","type":"nominal","scale":{"domain":["Placebo","DHA"],"paddingInner":0,"paddingOuter":0.1},"axis":{"title":null,"labelAngle":0}},"y":{"field":"lo","type":"quantitative","scale":{"domain":[-22.6,95],"nice":false,"zero":false},"axis":{"title":"Mean EPA Change Compared to Baseline (%)","values":[0,25,50,75]}}}},
 {"data":{"name":"f_bar"},"transform":[{"filter":"datum.f == 'CSF'"}],"mark":{"type":"tick","orient":"horizontal","size":12,"thickness":1.4,"color":"black","opacity":1},"encoding":{"x":{"field":"g","type":"nominal","scale":{"domain":["Placebo","DHA"],"paddingInner":0,"paddingOuter":0.1},"axis":{"title":null,"labelAngle":0}},"y":{"field":"hi","type":"quantitative","scale":{"domain":[-22.6,95],"nice":false,"zero":false},"axis":{"title":"Mean EPA Change Compared to Baseline (%)","values":[0,25,50,75]}}}},
 {"data":{"name":"f_br"},"transform":[{"filter":"datum.f == 'CSF'"}],"mark":{"type":"line","color":"#666666","strokeWidth":1},"encoding":{"x":{"field":"g","type":"nominal","scale":{"domain":["Placebo","DHA"],"paddingInner":0,"paddingOuter":0.1},"axis":{"title":null,"labelAngle":0}},"y":{"field":"y","type":"quantitative","scale":{"domain":[-22.6,95],"nice":false,"zero":false},"axis":{"title":"Mean EPA Change Compared to Baseline (%)","values":[0,25,50,75]}}}},
 {"data":{"name":"f_br"},"transform":[{"filter":"datum.f == 'CSF' && datum.g == 'Placebo'"}],"mark":{"type":"text","dy":-2.5,"baseline":"alphabetic","fontSize":8.5,"color":"#1a1a1a"},"encoding":{"y":{"field":"y","type":"quantitative","scale":{"domain":[-22.6,95],"nice":false,"zero":false},"axis":{"title":"Mean EPA Change Compared to Baseline (%)","values":[0,25,50,75]}},"text":{"field":"label"}}}
]},
{"width":104,"height":163,"layer":[
 {"data":{"name":"oneP"},"mark":{"type":"bar","fill":"white","stroke":"#1a1a1a","strokeWidth":1.3,"yOffset":-13.5,"y2Offset":-1.2},"encoding":{"x":{"value":0},"x2":{"value":"width"},"y":{"datum":95,"type":"quantitative","scale":{"domain":[-22.6,95],"nice":false,"zero":false},"axis":null},"y2":{"datum":95}}},
 {"data":{"name":"oneP"},"mark":{"type":"text","text":"Plasma","dy":-7.3,"fontSize":8.5,"color":"#1a1a1a"},"encoding":{"y":{"datum":95,"type":"quantitative","scale":{"domain":[-22.6,95],"nice":false,"zero":false},"axis":null}}},
 {"data":{"name":"f_bar"},"transform":[{"filter":"datum.f == 'Plasma'"}],"mark":{"type":"bar","width":{"band":0.7},"stroke":"black","strokeWidth":1.2},"encoding":{"x":{"field":"g","type":"nominal","scale":{"domain":["Placebo","DHA"],"paddingInner":0,"paddingOuter":0.1},"axis":{"title":null,"labelAngle":0}},"y":{"field":"mean","type":"quantitative","stack":null,"scale":{"domain":[-22.6,95],"nice":false,"zero":false},"axis":null},"y2":{"datum":0},"fill":{"field":"g","type":"nominal","scale":{"domain":["Placebo","DHA"],"range":["#F8766D","#00BFC4"]},"legend":null}}},
 {"data":{"name":"f_bar"},"transform":[{"filter":"datum.f == 'Plasma'"}],"mark":{"type":"rule","color":"black","strokeWidth":1.3},"encoding":{"x":{"field":"g","type":"nominal","scale":{"domain":["Placebo","DHA"],"paddingInner":0,"paddingOuter":0.1},"axis":{"title":null,"labelAngle":0}},"y":{"field":"lo","type":"quantitative","scale":{"domain":[-22.6,95],"nice":false,"zero":false},"axis":null},"y2":{"field":"hi"}}},
 {"data":{"name":"f_bar"},"transform":[{"filter":"datum.f == 'Plasma'"}],"mark":{"type":"tick","orient":"horizontal","size":12,"thickness":1.4,"color":"black","opacity":1},"encoding":{"x":{"field":"g","type":"nominal","scale":{"domain":["Placebo","DHA"],"paddingInner":0,"paddingOuter":0.1},"axis":{"title":null,"labelAngle":0}},"y":{"field":"lo","type":"quantitative","scale":{"domain":[-22.6,95],"nice":false,"zero":false},"axis":null}}},
 {"data":{"name":"f_bar"},"transform":[{"filter":"datum.f == 'Plasma'"}],"mark":{"type":"tick","orient":"horizontal","size":12,"thickness":1.4,"color":"black","opacity":1},"encoding":{"x":{"field":"g","type":"nominal","scale":{"domain":["Placebo","DHA"],"paddingInner":0,"paddingOuter":0.1},"axis":{"title":null,"labelAngle":0}},"y":{"field":"hi","type":"quantitative","scale":{"domain":[-22.6,95],"nice":false,"zero":false},"axis":null}}},
 {"data":{"name":"f_br"},"transform":[{"filter":"datum.f == 'Plasma'"}],"mark":{"type":"line","color":"#666666","strokeWidth":1},"encoding":{"x":{"field":"g","type":"nominal","scale":{"domain":["Placebo","DHA"],"paddingInner":0,"paddingOuter":0.1},"axis":{"title":null,"labelAngle":0}},"y":{"field":"y","type":"quantitative","scale":{"domain":[-22.6,95],"nice":false,"zero":false},"axis":null}}},
 {"data":{"name":"f_br"},"transform":[{"filter":"datum.f == 'Plasma' && datum.g == 'Placebo'"}],"mark":{"type":"text","dy":-2.5,"baseline":"alphabetic","fontSize":8.5,"color":"#1a1a1a"},"encoding":{"y":{"field":"y","type":"quantitative","scale":{"domain":[-22.6,95],"nice":false,"zero":false},"axis":null},"text":{"field":"label"}}}
]}
]
}
